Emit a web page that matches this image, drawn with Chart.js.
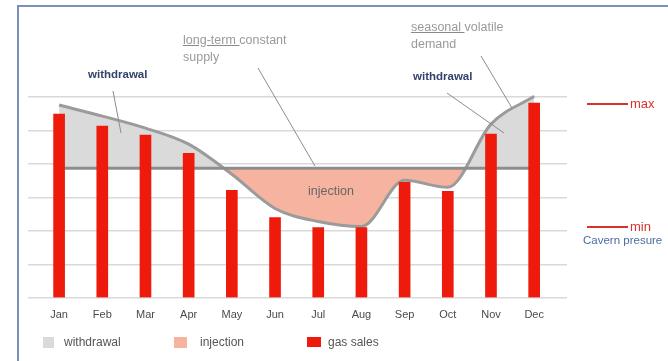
<!DOCTYPE html>
<html>
<head>
<meta charset="utf-8">
<script src="https://cdn.jsdelivr.net/npm/chart.js@4.4.1/dist/chart.umd.min.js"></script>
<style>
  html, body { margin: 0; padding: 0; background: #fff; }
  body { width: 668px; height: 361px; position: relative; overflow: hidden; font-family: "Liberation Sans", Arial, sans-serif; }
  #frame { position: absolute; left: 17px; top: 5px; width: 700px; height: 400px; border-left: 2px solid #7b90b6; border-top: 2px solid #7b90b6; }
  #chart { position: absolute; left: 0; top: 0; }
  #leaders { position: absolute; left: 0; top: 0; }
  .note { position: absolute; white-space: nowrap; }
  .navy { color: #34436b; font-weight: bold; font-size: 11.5px; }
  .grey { color: #9a9a9a; font-size: 12.5px; line-height: 17px; }
  .grey u { text-decoration-color: #8a8a8a; }
  .dark { color: #666; font-size: 12.5px; }
  .red { color: #d8322a; font-size: 13px; }
  .blue { color: #4a6ea0; font-size: 11.5px; }
  .mark { position: absolute; height: 2px; background: #d8322a; }
  .legend { position: absolute; top: 335px; font-size: 12px; color: #555; }
  .legend i { position: absolute; top: 2px; }
</style>
</head>
<body>
<div id="frame"></div>
<canvas id="chart" width="668" height="361"></canvas>
<svg id="leaders" width="668" height="361">
  <g stroke="#8c8c8c" stroke-width="1" fill="none">
    <line x1="113" y1="91" x2="121" y2="133"/>
    <line x1="258" y1="68" x2="315" y2="166"/>
    <line x1="481" y1="56" x2="512" y2="108"/>
    <line x1="447" y1="93" x2="504" y2="133"/>
  </g>
</svg>

<div class="note navy" style="left:88px; top:68px;">withdrawal</div>
<div class="note navy" style="left:413px; top:70px;">withdrawal</div>
<div class="note grey" style="left:183px; top:32px;"><u>long-term </u>constant<br>supply</div>
<div class="note grey" style="left:411px; top:19px;"><u>seasonal </u>volatile<br>demand</div>
<div class="note dark" style="left:308px; top:184px;">injection</div>

<div class="mark" style="left:587px; top:103px; width:41px;"></div>
<div class="note red" style="left:630px; top:96px;">max</div>
<div class="mark" style="left:587px; top:226px; width:41px;"></div>
<div class="note red" style="left:630px; top:219px;">min</div>
<div class="note blue" style="left:583px; top:234px;">Cavern presure</div>

<div class="legend" style="left:43px;"><i style="left:0; width:11px; height:11px; background:#dadada;"></i><span style="margin-left:21px;">withdrawal</span></div>
<div class="legend" style="left:174px;"><i style="left:0; width:13px; height:11px; background:#f6b4a0;"></i><span style="margin-left:26px;">injection</span></div>
<div class="legend" style="left:307px;"><i style="left:0; width:14px; height:10px; background:#ee1b0c;"></i><span style="margin-left:21px;">gas sales</span></div>

<script>
const months = ['Jan', 'Feb', 'Mar', 'Apr', 'May', 'Jun', 'Jul', 'Aug', 'Sep', 'Oct', 'Nov', 'Dec'];
const gasSales = [5.49, 5.13, 4.86, 4.32, 3.21, 2.4, 2.1, 2.1, 3.45, 3.18, 4.89, 5.82];
const cavernPressure = [5.76, 5.43, 5.07, 4.59, 3.69, 2.67, 2.28, 2.13, 3.51, 3.3, 5.19, 6.02];
const supplyLevel = 3.87;

// month index -> point on the linear x axis
const toPoints = values => values.map((v, i) => ({ x: i, y: v }));

const ctx = document.getElementById('chart').getContext('2d');
new Chart(ctx, {
    type: 'bar',
    data: {
        datasets: [{
            type: 'bar',
            label: 'gas sales',
            data: toPoints(gasSales),
            backgroundColor: '#ee1b0c',
            barThickness: 11,
            order: 0
        }, {
            type: 'line',
            label: 'constant supply',
            data: toPoints(months.map(() => supplyLevel)),
            borderColor: '#8d8d8d',
            borderWidth: 3,
            pointRadius: 0,
            fill: false,
            order: 1
        }, {
            type: 'line',
            label: 'cavern pressure',
            data: toPoints(cavernPressure),
            borderColor: '#9b9b9b',
            borderWidth: 3,
            pointRadius: 0,
            cubicInterpolationMode: 'monotone',
            clip: false,
            fill: {
                target: { value: supplyLevel },
                above: '#dadada',
                below: '#f6b4a0'
            },
            order: 2
        }]
    },
    options: {
        responsive: false,
        animation: false,
        layout: { padding: { left: 28, right: 101, top: 97, bottom: 36 } },
        plugins: {
            legend: { display: false },
            tooltip: { enabled: false }
        },
        scales: {
            x: {
                type: 'linear',
                min: -0.72,
                max: 11.76,
                offset: false,
                grid: { display: false },
                border: { display: false },
                afterBuildTicks: axis => {
                    axis.ticks = months.map((m, i) => ({ value: i }));
                },
                ticks: {
                    callback: value => months[value],
                    autoSkip: false,
                    maxRotation: 0,
                    padding: 3,
                    color: '#4a4a4a',
                    font: { family: 'Liberation Sans', size: 11 }
                }
            },
            y: {
                min: 0,
                max: 6,
                ticks: { display: false, stepSize: 1 },
                grid: { color: '#d9d9d9', lineWidth: 1.5, drawTicks: false },
                border: { display: false }
            }
        }
    }
});
</script>
</body>
</html>
